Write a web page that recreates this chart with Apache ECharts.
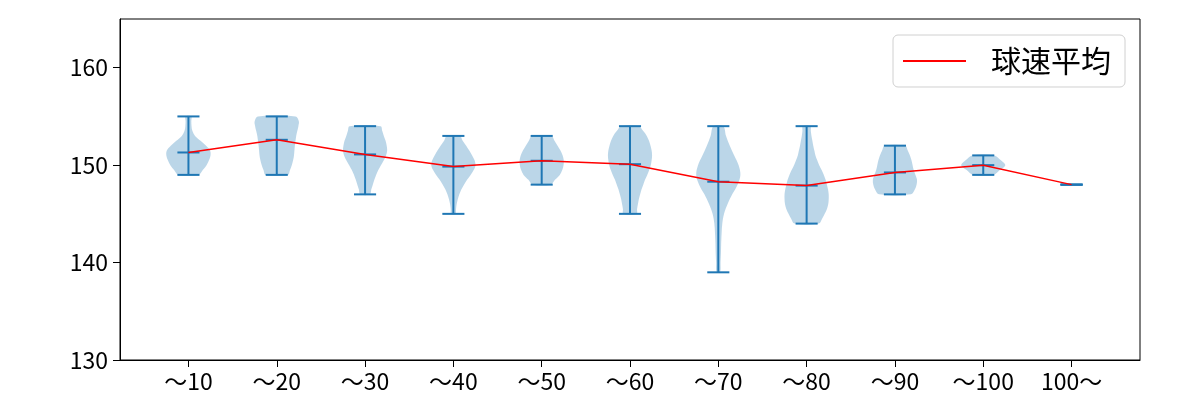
<!DOCTYPE html>
<html>
<head>
<meta charset="utf-8">
<script src="https://cdn.jsdelivr.net/npm/echarts@6/dist/echarts.min.js"></script>
<style>html,body{margin:0;padding:0;background:#fff}#c{width:1200px;height:400px}</style>
</head>
<body>
<div id="c"></div>
<script>
// ---- data ----
const categories = ['〜10','〜20','〜30','〜40','〜50','〜60','〜70','〜80','〜90','〜100','100〜'];
const mins  = [149, 149, 147, 145, 148, 145, 139, 144, 147, 149, 148];
const maxs  = [155, 155, 154, 153, 153, 154, 154, 154, 152, 151, 148];
const means = [151.3, 152.6, 151.1, 149.85, 150.45, 150.1, 148.3, 147.9, 149.25, 150.0, 148.0];
// relative half-widths of each violin, evenly spaced from min (first) to max (last)
const violinWidths = [
  [0.45,0.65,0.82,0.93,1.0,0.98,0.8,0.55,0.3,0.18,0.14,0.13,0.13],
  [0.5,0.6,0.68,0.74,0.78,0.8,0.82,0.85,0.88,0.93,0.98,1.0,0.85],
  [0.22,0.28,0.35,0.42,0.5,0.6,0.72,0.85,0.95,1.0,0.98,0.93,0.85,0.78,0.7],
  [0.1,0.12,0.15,0.2,0.27,0.36,0.48,0.62,0.78,0.92,1.0,0.96,0.85,0.72,0.58,0.42,0.3],
  [0.4,0.6,0.82,0.93,0.99,1.0,0.95,0.85,0.72,0.58,0.45],
  [0.3,0.32,0.36,0.4,0.46,0.52,0.6,0.68,0.78,0.87,0.94,0.98,1.0,0.98,0.93,0.86,0.76,0.6,0.4],
  [0.08,0.1,0.12,0.13,0.15,0.18,0.26,0.42,0.63,0.87,1.0,0.92,0.72,0.52,0.35,0.22],
  [0.55,0.7,0.82,0.92,0.98,1.0,1.0,0.97,0.92,0.86,0.78,0.68,0.57,0.48,0.4,0.35,0.3,0.26,0.22,0.19,0.17],
  [0.72,0.9,0.98,1.0,0.93,0.85,0.8,0.75,0.68,0.58,0.47],
  [0.45,0.75,1.0,0.8,0.5],
  []
];
const yTicks = [130, 140, 150, 160];
const legendName = '球速平均';

const FONT = '"Noto Sans CJK JP", "Noto Sans", sans-serif';
const C0 = '#1f77b4';
const positions = categories.map((_, i) => i + 1);

const violinData = positions.map((p, i) => [p, mins[i], maxs[i], means[i], i]);
const meanLine = positions.map((p, i) => [p, means[i]]);

function renderViolin(params, api) {
  const pos = api.value(0), lo = api.value(1), hi = api.value(2), mean = api.value(3);
  const idx = api.value(4);
  const w = violinWidths[idx];
  const half = 0.25, cap = 0.125;
  const children = [];
  if (w.length > 1) {
    const n = w.length;
    const left = [], right = [];
    for (let k = 0; k < n; k++) {
      const v = lo + (hi - lo) * k / (n - 1);
      left.push(api.coord([pos - w[k] * half, v]));
      right.push(api.coord([pos + w[k] * half, v]));
    }
    const pts = left.concat(right.reverse());
    children.push({
      type: 'polygon',
      shape: { points: pts, smooth: 0.35 },
      style: { fill: C0, opacity: 0.3, stroke: null }
    });
  }
  const line = (x1, y1, x2, y2) => {
    const a = api.coord([x1, y1]), b = api.coord([x2, y2]);
    return { type: 'line', shape: { x1: a[0], y1: a[1], x2: b[0], y2: b[1] },
             style: { stroke: C0, lineWidth: 2 } };
  };
  children.push(line(pos, lo, pos, hi));
  children.push(line(pos - cap, lo, pos + cap, lo));
  children.push(line(pos - cap, hi, pos + cap, hi));
  children.push(line(pos - cap, mean, pos + cap, mean));
  return { type: 'group', children };
}

const chart = echarts.init(document.getElementById('c'), null, { renderer: 'canvas' });
chart.setOption({
  animation: false,
  backgroundColor: '#fff',
  textStyle: { fontFamily: FONT },
  grid: { left: 120, right: 60, top: 19, bottom: 40, show: true, borderColor: '#000', borderWidth: 1, backgroundColor: 'transparent' },
  legend: {
    data: [legendName],
    right: 75, top: 35,
    backgroundColor: '#fff',
    borderColor: '#d0d0d0', borderWidth: 1, borderRadius: 5,
    padding: [11, 14, 11, 10],
    itemWidth: 63, itemHeight: 2,
    icon: 'rect',
    textStyle: { fontSize: 30, color: '#000', fontFamily: FONT, padding: [0, 0, 0, 20] }
  },
  xAxis: {
    type: 'value', min: 0.225, max: 11.775,
    splitLine: { show: false },
    axisLine: { show: true, lineStyle: { color: '#000', width: 1 } },
    axisTick: { show: true, customValues: positions, length: 7, lineStyle: { color: '#000', width: 1 } },
    axisLabel: { customValues: positions, formatter: v => categories[Math.round(v) - 1] || '',
                 fontSize: 23, color: '#000', margin: 10, fontFamily: FONT }
  },
  yAxis: {
    type: 'value', min: 130, max: 165,
    splitLine: { show: false },
    axisLine: { show: true, lineStyle: { color: '#000', width: 1 } },
    axisTick: { show: true, customValues: yTicks, length: 7, lineStyle: { color: '#000', width: 1 } },
    axisLabel: { customValues: yTicks, fontSize: 23, color: '#000', margin: 12, fontFamily: FONT }
  },
  series: [
    {
      type: 'custom', name: 'violin', renderItem: renderViolin,
      data: violinData, encode: { x: 0, y: [1, 2] }, z: 2, silent: true
    },
    {
      type: 'line', name: legendName, data: meanLine, symbol: 'none',
      lineStyle: { color: 'red', width: 1.5 }, itemStyle: { color: 'red' }, z: 5
    }
  ]
});
</script>
</body>
</html>
